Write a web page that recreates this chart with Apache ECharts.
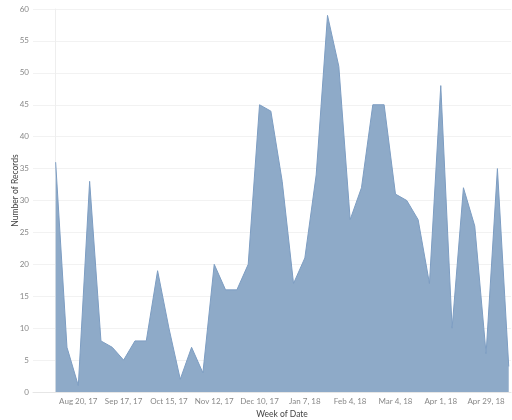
<!DOCTYPE html>
<html>
<head>
<meta charset="utf-8">
<script src="https://cdn.jsdelivr.net/npm/echarts@6/dist/echarts.min.js"></script>
<style>
  html, body { margin: 0; padding: 0; background: #fff; }
  #chart { width: 512px; height: 420px; }
</style>
</head>
<body>
<div id="chart"></div>
<script>
// weeks, starting Aug 6, 2017
const weeks = [
  'Aug 6, 17', 'Aug 13, 17', 'Aug 20, 17', 'Aug 27, 17', 'Sep 3, 17', 'Sep 10, 17',
  'Sep 17, 17', 'Sep 24, 17', 'Oct 1, 17', 'Oct 8, 17', 'Oct 15, 17', 'Oct 22, 17',
  'Oct 29, 17', 'Nov 5, 17', 'Nov 12, 17', 'Nov 19, 17', 'Nov 26, 17', 'Dec 3, 17',
  'Dec 10, 17', 'Dec 17, 17', 'Dec 24, 17', 'Dec 31, 17', 'Jan 7, 18', 'Jan 14, 18',
  'Jan 21, 18', 'Jan 28, 18', 'Feb 4, 18', 'Feb 11, 18', 'Feb 18, 18', 'Feb 25, 18',
  'Mar 4, 18', 'Mar 11, 18', 'Mar 18, 18', 'Mar 25, 18', 'Apr 1, 18', 'Apr 8, 18',
  'Apr 15, 18', 'Apr 22, 18', 'Apr 29, 18', 'May 6, 18', 'May 13, 18'
];
const records = [
  36, 7, 1, 33, 8, 7, 5, 8, 8, 19, 10, 2, 7, 3, 20, 16, 16, 20, 45, 44, 33,
  17, 21, 34, 59, 51, 27, 32, 45, 45, 31, 30, 27, 17, 48, 10, 32, 26, 6, 35, 4
];
// tick labels shown on the x axis (every 4 weeks)
const tickLabels = ['Aug 20, 17', 'Sep 17, 17', 'Oct 15, 17', 'Nov 12, 17', 'Dec 10, 17',
  'Jan 7, 18', 'Feb 4, 18', 'Mar 4, 18', 'Apr 1, 18', 'Apr 29, 18'];

const font = 'Lato, "Open Sans", sans-serif';
const chart = echarts.init(document.getElementById('chart'));

chart.setOption({
  animation: false,
  grid: { left: 33, right: 1, top: 9, bottom: 28, outerBoundsMode: 'none', containLabel: false },
  xAxis: {
    type: 'value',
    min: -2,
    max: 40.2,
    interval: 4,
    name: 'Week of Date',
    nameLocation: 'middle',
    nameGap: 18,
    nameMoveOverlap: false,
    nameTextStyle: { color: '#444', fontSize: 8.5, fontFamily: font, padding: [0, 0, 0, 20] },
    axisLine: { show: true, lineStyle: { color: '#e6e6e6' } },
    axisTick: { show: false },
    splitLine: { show: false },
    axisLabel: {
      color: '#888', fontSize: 8, fontFamily: font, margin: 5,
      showMinLabel: false, showMaxLabel: false,
      formatter: function (v) {
        const lbl = weeks[Math.round(v)];
        return tickLabels.indexOf(lbl) >= 0 ? lbl : '';
      }
    }
  },
  yAxis: {
    type: 'value',
    min: 0,
    max: 60,
    interval: 5,
    name: 'Number of Records',
    nameLocation: 'middle',
    nameGap: 13,
    nameMoveOverlap: false,
    nameTextStyle: { color: '#444', fontSize: 8.5, fontFamily: font, padding: [0, 0, 0, 20] },
    axisLine: { show: true, lineStyle: { color: '#eeeeee' } },
    axisTick: { show: false },
    splitLine: { lineStyle: { color: '#f2f2f2' } },
    axisLabel: { color: '#888', fontSize: 8, fontFamily: font, margin: 4 }
  },
  series: [{
    type: 'line',
    data: records.map(function (v, i) { return [i, v]; }),
    symbol: 'none',
    lineStyle: { color: '#7d9dc2', width: 1 },
    areaStyle: { color: '#8eaac8', opacity: 1 }
  }]
});
</script>
</body>
</html>
